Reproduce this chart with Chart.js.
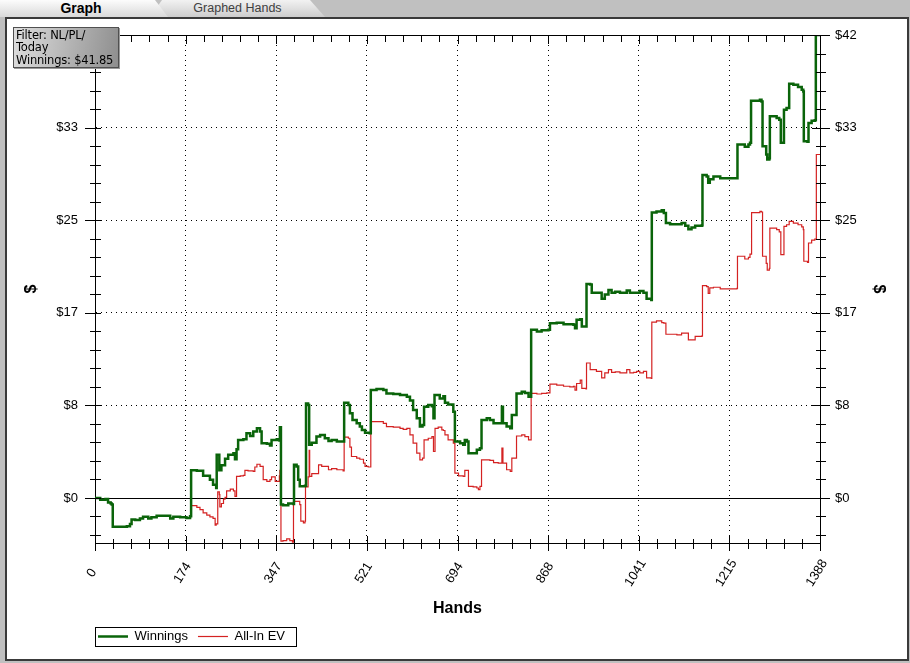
<!DOCTYPE html>
<html>
<head>
<meta charset="utf-8">
<script src="https://cdn.jsdelivr.net/npm/chart.js@4.4.1/dist/chart.umd.min.js"></script>
<style>
  html, body { margin: 0; padding: 0; }
  body { width: 910px; height: 663px; background: #c0c0c0; position: relative; overflow: hidden;
         font-family: "Liberation Sans", Arial, sans-serif; }
  .tab { position: absolute; top: 0; height: 17px; line-height: 17px; text-align: center; }
  .tab.off { left: 150px; width: 175px; color: #404040; font-size: 12.5px; background: linear-gradient(#f2f2f2, #cdcdcd);
             clip-path: polygon(12px 0, 160px 0, 175px 17px, 0 17px); }
  .tab.on { left: 0; width: 168px; font-size: 14px; font-weight: bold; background: linear-gradient(#fcfcfc, #d9d9d9);
            clip-path: polygon(0 0, 155px 0, 168px 17px, 0 17px); }
  .tab span { display: inline-block; }
  .panel { position: absolute; left: 5px; top: 17px; width: 904px; height: 644px; box-sizing: border-box;
           background: #fff; border: 2px solid #3a3a3a; }
  #chart { position: absolute; left: 0; top: 0; }
  .filter { position: absolute; left: 13px; top: 27px; width: 106px; height: 41px; box-sizing: border-box;
            border: 1px solid #505050; background: linear-gradient(100deg, #dedede, #8e8e8e);
            box-shadow: 1px 1px 0 #9a9a9a; font: 11.5px "DejaVu Sans", sans-serif; line-height: 12.3px;
            padding: 1px 0 0 2px; color: #000; white-space: nowrap; letter-spacing: -0.2px; }
</style>
</head>
<body>
<div class="tab off"><span style="margin-left:0">Graphed Hands</span></div>
<div class="tab on"><span style="margin-right:6px">Graph</span></div>
<div class="panel"></div>
<canvas id="chart" width="910" height="663"></canvas>
<div class="filter">Filter: NL/PL/<br>Today<br>Winnings: $41.85</div>

<script>
const X_MAX = 1388;
const Y_MIN = -4.07;
const Y_MAX = 41.85;
const xTickLabels = ["0", "174", "347", "521", "694", "868", "1041", "1215", "1388"];
const yTickLabels = ["$0", "$8", "$17", "$25", "$33", "$42"];
const MINOR = 5; // minor ticks per major step

// Winnings (hand number, $)
const winHands = [0,10,20,25,30,32,34,61,67,70,77,86,92,102,108,118,137,144,150,163,175,182,
  184,195,207,220,226,232,233,238,242,249,255,265,268,271,274,284,290,297,303,310,316,319,329,335,338,348,353,354,356,
  360,370,380,381,386,389,392,402,404,408,410,415,424,431,440,447,453,463,475,477,485,488,493,501,507,511,517,526,
  528,539,552,558,571,584,597,603,609,616,622,627,630,638,645,648,650,654,660,667,670,676,686,689,699,705,708,712,
  715,724,731,737,740,750,756,763,772,779,781,788,795,798,804,807,817,823,830,835,846,855,868,871,884,897,916,919,
  922,929,932,940,941,948,951,960,970,976,983,989,996,1005,1018,1024,1037,1043,1050,1056,1065,1066,1075,1085,1089,
  1093,1101,1114,1123,1130,1136,1142,1149,1162,1163,1171,1174,1177,1184,1197,1229,1230,1244,1251,1254,1256,1273,
  1276,1278,1285,1287,1291,1292,1305,1310,1313,1318,1319,1324,1329,1337,1346,1353,1356,1357,1364,1366,1372,1378,
  1380,1388];
const winValues = [0,-0.15,-0.1,-0.4,-0.5,-0.6,-2.6,-2.55,-2.35,-1.95,-2.0,-1.85,-1.7,-1.85,-1.75,-1.6,-1.6,-1.85,-1.7,-1.75,-1.8,-1.65,
  2.5,2.45,2.0,1.65,1.2,0.9,3.9,2.5,2.95,3.55,3.9,4.05,3.5,4.4,5.25,5.3,5.85,5.6,6.0,6.3,6.0,4.95,4.9,4.75,5.25,5.3,5.2,6.4,-0.6,
  -0.65,-0.5,-0.55,3.0,2.85,1.65,1.05,1.1,8.55,8.4,4.8,5.0,5.55,5.7,5.4,5.15,5.25,5.1,5.1,8.6,8.4,7.65,7.05,6.75,6.45,6.15,5.9,5.85,
  9.75,9.85,9.75,9.45,9.4,9.3,9.15,8.8,7.95,7.2,6.45,6.6,8.25,8.4,8.3,7.2,9.3,9.3,9.0,9.2,8.6,8.45,7.8,5.1,4.95,4.8,5.25,5.1,
  4.05,4.05,4.35,4.5,7.05,7.2,7.05,6.75,6.75,8.25,6.75,6.45,6.3,7.5,7.5,9.45,9.6,9.5,9.15,15.2,15.05,15.15,15.2,15.8,15.85,15.7,15.65,15.35,
  16.1,16.15,15.5,15.5,19.35,19.3,18.55,18.55,18.0,18.4,18.8,18.55,18.65,18.55,18.75,18.55,18.55,18.7,18.55,18.0,17.9,25.8,25.9,26.0,25.75,
  24.85,24.75,24.75,24.85,24.6,24.3,24.45,24.6,24.65,29.2,29.05,28.5,28.8,29.05,28.9,28.9,31.95,31.75,31.95,32.1,35.9,36.0,
  35.85,31.8,31.05,30.6,30.7,34.5,34.35,34.2,32.1,32.1,35.1,35.25,37.45,37.35,37.15,36.9,36.75,32.25,32.2,33.9,34.1,34.15,
  41.85,41.85];

// All-In EV (hand number, $)
const evHands = [0,10,20,25,30,32,34,61,67,70,77,86,92,102,108,118,137,144,150,163,175,182,
  184,195,201,207,214,220,226,230,232,235,238,239,242,246,249,252,259,265,268,271,278,284,287,293,303,306,310,316,322,329,
  335,338,345,353,354,356,360,367,373,378,380,386,392,394,399,402,403,408,410,411,415,428,434,444,447,453,463,475,477,485,
  488,491,501,507,514,517,523,528,539,552,558,571,584,590,597,603,609,616,622,627,630,638,645,648,651,657,664,667,670,676,
  686,689,696,705,708,715,724,731,734,737,740,756,763,772,779,781,788,795,798,804,807,817,823,830,835,846,855,865,871,884,
  897,909,916,919,922,929,932,940,941,948,960,970,976,983,989,996,1005,1018,1024,1031,1037,1043,1050,1056,1065,1066,1075,
  1085,1089,1093,1114,1123,1136,1149,1162,1163,1171,1174,1177,1184,1197,1229,1230,1244,1251,1254,1257,1273,1276,1278,1285,
  1287,1291,1292,1305,1310,1313,1318,1319,1324,1329,1337,1346,1353,1356,1357,1364,1366,1372,1378,1381,1388];
const evValues = [0,-0.15,-0.1,-0.4,-0.5,-0.6,-2.6,-2.55,-2.35,-1.95,-2.0,-1.85,-1.7,-1.85,-1.75,-1.6,-1.6,-1.85,-1.7,-1.75,-1.8,-1.65,
  -0.7,-0.85,-1.05,-1.35,-1.55,-1.7,-1.85,-2.45,-2.35,0.55,0.3,-0.8,-0.5,-0.1,0.05,0.65,0.8,0.65,0.15,1.95,2.0,2.05,2.5,2.45,2.4,2.8,3.05,2.85,1.65,1.5,
  1.65,1.9,1.5,2.0,2.5,-3.9,-3.85,-3.7,-3.85,-4.0,-0.3,-0.3,-0.6,-2.1,-2.25,-2.1,1.0,1.9,4.3,1.95,2.2,3.0,2.85,2.85,2.55,2.65,2.55,2.45,5.5,5.4,
  4.6,3.75,3.6,3.5,3.15,2.85,2.8,6.9,6.9,6.75,6.45,6.4,6.3,6.2,6.3,5.7,4.95,4.05,3.45,3.6,5.25,5.4,5.55,4.2,6.3,6.4,6.15,6.1,5.7,5.25,
  4.95,2.25,2.0,1.95,2.5,1.05,1.0,0.9,0.75,1.05,3.45,3.4,3.2,3.15,4.5,3.15,2.55,2.4,3.6,3.6,5.6,5.7,5.55,5.25,9.45,9.4,9.45,9.5,10.3,10.2,
  10.1,10.05,10.1,9.75,10.35,10.65,9.9,9.85,12.2,11.6,11.45,10.85,11.3,11.6,11.35,11.4,11.3,11.6,11.3,11.35,11.45,11.3,11.45,10.85,10.8,15.9,16.0,
  15.85,15.8,14.8,14.75,14.9,14.3,14.6,14.65,19.2,19.1,18.5,19.0,19.05,18.9,18.95,21.85,21.6,21.75,22.05,25.8,25.9,25.85,21.85,21.2,
  20.6,20.75,24.4,24.25,24.05,22.0,22.0,24.55,24.7,25.0,24.85,24.7,24.5,24.25,21.4,21.3,23.05,23.3,23.4,31.05,31.05];

const FONT = "'Liberation Sans', Arial, sans-serif";
const X_LABEL_ANGLE = 58;

function pairs(xs, ys) {
  return xs.map((x, i) => ({ x, y: ys[i] }));
}

// major + minor ticks, labels only on the majors
function xTicks(scale) {
  const step = X_MAX / (xTickLabels.length - 1) / MINOR;
  const last = (xTickLabels.length - 1) * MINOR;
  const out = [];
  for (let i = 0; i <= last; i++) {
    const big = i % MINOR === 0;
    out.push({ value: i * step, big, lbl: big ? xTickLabels[i / MINOR] : "", grid: big && i > 0 && i < last });
  }
  scale.ticks = out;
}

function yTicks(scale) {
  const step = Y_MAX / (yTickLabels.length - 1) / MINOR;
  const last = (yTickLabels.length - 1) * MINOR;
  const out = [];
  for (let k = Math.ceil(Y_MIN / step); k <= last; k++) {
    const big = k >= 0 && k % MINOR === 0;
    out.push({ value: k * step, big, lbl: big ? yTickLabels[k / MINOR] : "", grid: big && k > 0 && k < last });
  }
  scale.ticks = out;
}

// zero line, crossing tick marks, rotated x labels (centred), top border, legend frame
const axisDeco = {
  id: "axisDeco",
  beforeDraw(chart) {
    // legend items start a little left of the default padding
    chart.legend._shift = chart.chartArea.left + 3 - 10 - chart.legend.left;
    chart.legend.left += chart.legend._shift;
  },
  beforeDatasetsDraw(chart) {
    const { ctx, chartArea: a, scales } = chart;
    const py = Math.round(scales.y.getPixelForValue(0)) + 0.5;
    ctx.save();
    ctx.strokeStyle = "#000";
    ctx.lineWidth = 1;
    ctx.beginPath();
    ctx.moveTo(a.left, py);
    ctx.lineTo(a.right, py);
    ctx.stroke();
    ctx.restore();
  },
  afterDraw(chart) {
    const { ctx, chartArea: a, scales } = chart;
    ctx.save();
    ctx.strokeStyle = "#000";
    ctx.lineWidth = 1;
    ctx.beginPath();
    ctx.moveTo(a.left, Math.round(a.top) + 0.5);
    ctx.lineTo(a.right + 1, Math.round(a.top) + 0.5);
    const b = Math.round(a.bottom);
    scales.x.ticks.forEach(t => {
      const px = Math.round(scales.x.getPixelForValue(t.value)) + 0.5;
      ctx.moveTo(px, b - (t.big ? 7 : 4));
      ctx.lineTo(px, b + (t.big ? 8 : 6));
      ctx.moveTo(px, a.top);
      ctx.lineTo(px, a.top + (t.big ? 9 : 7));
    });
    scales.y.ticks.forEach(t => {
      const py = Math.round(scales.y.getPixelForValue(t.value)) + 0.5;
      const l = Math.round(a.left), r = Math.round(a.right);
      ctx.moveTo(l - (t.big ? 10 : 5), py);
      ctx.lineTo(l + 6, py);
      ctx.moveTo(r - (t.big ? 8 : 4), py);
      ctx.lineTo(r + (t.big ? 10 : 6), py);
    });
    ctx.stroke();

    ctx.fillStyle = "#000";
    ctx.font = "13px " + FONT;
    ctx.textAlign = "center";
    ctx.textBaseline = "middle";
    scales.x.ticks.forEach(t => {
      if (!t.lbl) return;
      ctx.save();
      ctx.translate(scales.x.getPixelForValue(t.value) - 3, b + 30);
      ctx.rotate(-X_LABEL_ANGLE * Math.PI / 180);
      ctx.fillText(t.lbl, 0, 0);
      ctx.restore();
    });

    const hb = chart.legend.legendHitBoxes;
    if (hb && hb.length) {
      const lastHit = hb[hb.length - 1];
      const x0 = Math.round(a.left) + 0.5;
      const x1 = Math.round(lastHit.left + lastHit.width + chart.legend._shift + 11) + 0.5;
      const y0 = Math.round(hb[0].top - 3) + 0.5;
      const y1 = Math.round(hb[0].top + hb[0].height + 3) + 0.5;
      ctx.strokeRect(x0, y0, x1 - x0, y1 - y0);
    }
    ctx.restore();
  }
};

const tickFont = { family: FONT, size: 13 };

new Chart(document.getElementById("chart"), {
  type: "line",
  data: {
    datasets: [
      { label: "Winnings", data: pairs(winHands, winValues), borderColor: "#0a640a",
        backgroundColor: "#0a640a", borderWidth: 2.5, stepped: true, pointRadius: 0, fill: false },
      { label: "All-In EV", data: pairs(evHands, evValues), borderColor: "#d42222",
        backgroundColor: "#d42222", borderWidth: 1.2, stepped: true, pointRadius: 0, fill: false }
    ]
  },
  options: {
    responsive: false,
    animation: false,
    layout: { padding: { left: 10, right: 10, top: 35, bottom: 10 } },
    plugins: {
      tooltip: { enabled: false },
      legend: {
        position: "bottom",
        align: "start",
        fullSize: false,
        labels: {
          usePointStyle: true,
          pointStyle: "line",
          pointStyleWidth: 30,
          padding: 10,
          color: "#000",
          font: { family: FONT, size: 13 }
        }
      }
    },
    scales: {
      x: {
        type: "linear",
        position: "bottom",
        min: 0,
        max: X_MAX,
        afterBuildTicks: xTicks,
        afterFit: s => { s.height = 77; },
        ticks: { display: false, autoSkip: false },
        grid: {
          drawTicks: false,
          color: c => (c.tick && c.tick.grid ? "#000" : "rgba(0,0,0,0)"),
          lineWidth: 1
        },
        border: { display: true, color: "#000", width: 1, dash: [1, 4] },
        title: { display: true, text: "Hands", color: "#000",
                 font: { family: FONT, size: 16, weight: "bold" }, padding: { top: 4, bottom: 2 } }
      },
      y: {
        type: "linear",
        position: "left",
        min: Y_MIN,
        max: Y_MAX,
        afterBuildTicks: yTicks,
        afterFit: s => { s.width = 85; },
        ticks: { autoSkip: false, padding: 17, color: "#000", font: tickFont,
                 callback: (v, i, ts) => ts[i].lbl },
        grid: {
          drawTicks: false,
          color: c => (c.tick && c.tick.grid ? "#000" : "rgba(0,0,0,0)"),
          lineWidth: 1
        },
        border: { display: true, color: "#000", width: 1, dash: [1, 4] },
        title: { display: true, text: "$", color: "#000",
                 font: { family: FONT, size: 16, weight: "bold" }, padding: { top: 12, bottom: 0 } }
      },
      y2: {
        type: "linear",
        position: "right",
        min: Y_MIN,
        max: Y_MAX,
        afterBuildTicks: yTicks,
        afterFit: s => { s.width = 80; },
        ticks: { autoSkip: false, padding: 15, color: "#000", font: tickFont,
                 callback: (v, i, ts) => ts[i].lbl },
        grid: { drawTicks: false, drawOnChartArea: false },
        border: { display: true, color: "#000", width: 1 },
        title: { display: true, text: "$", color: "#000",
                 font: { family: FONT, size: 16, weight: "bold" }, padding: { top: 12, bottom: 0 } }
      }
    }
  },
  plugins: [axisDeco]
});
</script>
</body>
</html>
